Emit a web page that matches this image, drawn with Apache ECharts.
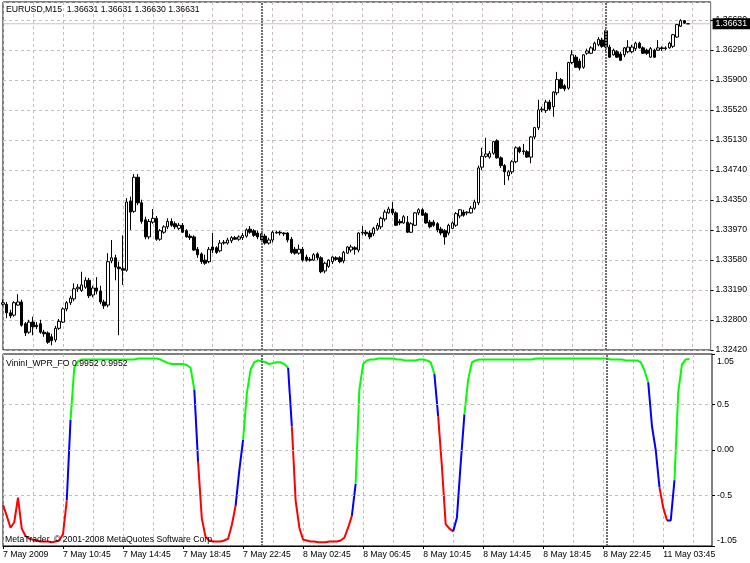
<!DOCTYPE html>
<html><head><meta charset="utf-8">
<script src="https://cdn.jsdelivr.net/npm/echarts@6/dist/echarts.min.js"></script>
<style>html,body{margin:0;padding:0;background:#fff}#c{width:750px;height:563px}</style>
</head><body><div id="c"></div>
<script>
// ---------- data ----------
const barOpen = [
1.3301,1.3301,1.3290,1.3287,1.3300,1.3304,1.3276,1.3265,1.3278,1.3274,
1.3276,1.3265,1.3264,1.3259,1.3255,1.3270,1.3278,1.3295,1.3303,1.3308,
1.3321,1.3319,1.3323,1.3332,1.3313,1.3322,1.3318,1.3304,1.3300,1.3357,
1.3361,1.3349,1.3347,1.3345,1.3434,1.3421,1.3465,1.3432,1.3410,1.3388,
1.3407,1.3412,1.3385,1.3394,1.3401,1.3408,1.3405,1.3399,1.3403,1.3396,
1.3389,1.3388,1.3372,1.3366,1.3358,1.3356,1.3375,1.3374,1.3370,1.3380,
1.3380,1.3383,1.3387,1.3385,1.3387,1.3389,1.3398,1.3396,1.3393,1.3392,
1.3389,1.3380,1.3384,1.3393,1.3394,1.3393,1.3393,1.3385,1.3372,1.3367,
1.3372,1.3362,1.3359,1.3358,1.3366,1.3361,1.3344,1.3350,1.3356,1.3361,
1.3361,1.3357,1.3367,1.3371,1.3374,1.3371,1.3393,1.3394,1.3393,1.3392,
1.3398,1.3401,1.3411,1.3419,1.3424,1.3419,1.3408,1.3406,1.3407,1.3394,
1.3403,1.3419,1.3423,1.3418,1.3407,1.3407,1.3405,1.3398,1.3396,1.3393,
1.3399,1.3403,1.3415,1.3420,1.3419,1.3419,1.3425,1.3432,1.3478,1.3492,
1.3491,1.3496,1.3512,1.3490,1.3480,1.3467,1.3472,1.3485,1.3503,1.3498,
1.3498,1.3491,1.3517,1.3529,1.3552,1.3551,1.3562,1.3556,1.3574,1.3591,
1.3583,1.3580,1.3613,1.3620,1.3615,1.3607,1.3625,1.3625,1.3629,1.3636,
1.3642,1.3654,1.3633,1.3623,1.3627,1.3624,1.3623,1.3627,1.3627,1.3631,
1.3638,1.3632,1.3629,1.3620,1.3629,1.3629,1.3632,1.3631,1.3632,1.3634,
1.3646,1.3660,1.3667,1.36631];
const barClose = [
1.3303,1.3290,1.3286,1.3303,1.3304,1.3274,1.3264,1.3278,1.3272,1.3272,
1.3265,1.3263,1.3252,1.3254,1.3270,1.3279,1.3295,1.3303,1.3309,1.3321,
1.3323,1.3326,1.3332,1.3312,1.3322,1.3318,1.3304,1.3299,1.3356,1.3361,
1.3349,1.3347,1.3345,1.3433,1.3420,1.3465,1.3432,1.3408,1.3388,1.3408,
1.3412,1.3385,1.3396,1.3401,1.3408,1.3403,1.3401,1.3403,1.3394,1.3388,
1.3387,1.3371,1.3365,1.3356,1.3354,1.3372,1.3371,1.3368,1.3380,1.3381,
1.3384,1.3387,1.3385,1.3388,1.3390,1.3397,1.3394,1.3390,1.3388,1.3384,
1.3380,1.3384,1.3394,1.3394,1.3393,1.3392,1.3384,1.3368,1.3367,1.3372,
1.3358,1.3358,1.3358,1.3365,1.3361,1.3343,1.3354,1.3358,1.3362,1.3359,
1.3356,1.3368,1.3375,1.3375,1.3372,1.3393,1.3394,1.3392,1.3388,1.3399,
1.3403,1.3412,1.3420,1.3424,1.3419,1.3403,1.3406,1.3414,1.3394,1.3405,
1.3419,1.3423,1.3416,1.3406,1.3401,1.3403,1.3397,1.3393,1.3388,1.3403,
1.3406,1.3418,1.3423,1.3416,1.3420,1.3425,1.3433,1.3477,1.3492,1.3495,
1.3496,1.3511,1.3490,1.3480,1.3472,1.3472,1.3485,1.3503,1.3498,1.3499,
1.3491,1.3517,1.3529,1.3552,1.3553,1.3562,1.3553,1.3575,1.3591,1.3580,
1.3579,1.3613,1.3623,1.3607,1.3606,1.3623,1.3628,1.3632,1.3638,1.3643,
1.3634,1.3633,1.3620,1.3629,1.3620,1.3616,1.3632,1.3633,1.3633,1.3638,
1.3632,1.3625,1.3625,1.3631,1.3620,1.3632,1.3631,1.3632,1.3638,1.3649,
1.3662,1.3667,1.3664,1.36631];
const barLow = [
1.3299,1.3283,1.3283,1.3285,1.3299,1.3272,1.3260,1.3263,1.3261,1.3269,
1.3263,1.3259,1.3250,1.3248,1.3252,1.3268,1.3277,1.3292,1.3300,1.3305,
1.3317,1.3317,1.3321,1.3309,1.3310,1.3314,1.3301,1.3295,1.3297,1.3354,
1.3332,1.3261,1.3326,1.3343,1.3397,1.3419,1.3429,1.3405,1.3385,1.3385,
1.3405,1.3383,1.3383,1.3392,1.3398,1.3401,1.3398,1.3397,1.3393,1.3387,
1.3384,1.3370,1.3361,1.3353,1.3352,1.3354,1.3367,1.3366,1.3368,1.3378,
1.3378,1.3380,1.3384,1.3383,1.3384,1.3387,1.3392,1.3388,1.3385,1.3381,
1.3378,1.3378,1.3381,1.3392,1.3390,1.3389,1.3381,1.3366,1.3365,1.3365,
1.3356,1.3356,1.3356,1.3357,1.3358,1.3341,1.3341,1.3348,1.3353,1.3357,
1.3354,1.3354,1.3366,1.3368,1.3365,1.3368,1.3390,1.3389,1.3385,1.3389,
1.3396,1.3398,1.3408,1.3418,1.3416,1.3402,1.3403,1.3405,1.3393,1.3393,
1.3402,1.3416,1.3415,1.3405,1.3399,1.3401,1.3394,1.3390,1.3378,1.3390,
1.3398,1.3401,1.3412,1.3414,1.3416,1.3418,1.3423,1.3429,1.3474,1.3490,
1.3489,1.3494,1.3489,1.3477,1.3455,1.3461,1.3469,1.3483,1.3496,1.3494,
1.3490,1.3483,1.3514,1.3526,1.3549,1.3548,1.3551,1.3543,1.3571,1.3579,
1.3576,1.3578,1.3611,1.3606,1.3603,1.3605,1.3623,1.3624,1.3628,1.3634,
1.3632,1.3627,1.3619,1.3622,1.3619,1.3615,1.3620,1.3625,1.3625,1.3628,
1.3631,1.3624,1.3623,1.3619,1.3619,1.3628,1.3628,1.3629,1.3631,1.3632,
1.3645,1.3659,1.3663,1.36630];
const barHigh = [
1.3307,1.3304,1.3294,1.3305,1.3314,1.3307,1.3278,1.3281,1.3285,1.3278,
1.3281,1.3268,1.3266,1.3263,1.3273,1.3282,1.3297,1.3305,1.3312,1.3328,
1.3327,1.3343,1.3336,1.3335,1.3325,1.3336,1.3325,1.3307,1.3367,1.3384,
1.3365,1.3356,1.3390,1.3438,1.3440,1.3469,1.3469,1.3436,1.3414,1.3411,
1.3424,1.3415,1.3398,1.3403,1.3412,1.3412,1.3408,1.3406,1.3406,1.3398,
1.3392,1.3390,1.3375,1.3368,1.3365,1.3375,1.3393,1.3376,1.3384,1.3384,
1.3387,1.3389,1.3389,1.3390,1.3393,1.3399,1.3402,1.3398,1.3396,1.3394,
1.3392,1.3387,1.3396,1.3396,1.3396,1.3394,1.3394,1.3388,1.3375,1.3378,
1.3375,1.3365,1.3362,1.3367,1.3368,1.3363,1.3356,1.3359,1.3363,1.3363,
1.3363,1.3370,1.3376,1.3378,1.3376,1.3394,1.3402,1.3397,1.3396,1.3401,
1.3406,1.3414,1.3423,1.3427,1.3433,1.3421,1.3411,1.3416,1.3415,1.3407,
1.3420,1.3425,1.3425,1.3420,1.3410,1.3410,1.3407,1.3401,1.3398,1.3405,
1.3408,1.3420,1.3424,1.3423,1.3421,1.3428,1.3436,1.3480,1.3503,1.3516,
1.3499,1.3512,1.3514,1.3492,1.3482,1.3474,1.3487,1.3505,1.3505,1.3508,
1.3500,1.3518,1.3530,1.3565,1.3556,1.3565,1.3565,1.3576,1.3601,1.3593,
1.3585,1.3614,1.3629,1.3623,1.3618,1.3624,1.3631,1.3634,1.3640,1.3646,
1.3645,1.3656,1.3636,1.3631,1.3629,1.3627,1.3633,1.3642,1.3636,1.3640,
1.3640,1.3634,1.3631,1.3633,1.3631,1.3642,1.3634,1.3634,1.3640,1.3650,
1.3663,1.3669,1.3668,1.36631];

const wprValues = [
-0.60,-0.72,-0.85,-0.79,-0.52,-0.86,-0.94,-0.97,-0.98,-0.99,
-1.00,-1.00,-1.00,-1.01,-1.00,-0.99,-0.92,-0.55,0.33,0.90,
0.97,0.99,0.99,0.99,0.99,0.99,0.99,0.99,0.99,0.99,
0.99,0.99,0.99,0.99,0.99,0.99,1.00,1.00,1.00,1.00,
1.00,1.00,0.99,0.97,0.95,0.94,0.94,0.94,0.94,0.93,
0.90,0.66,-0.13,-0.75,-0.95,-0.99,-1.00,-1.00,-1.00,-0.99,
-0.97,-0.82,-0.61,-0.22,0.11,0.62,0.88,0.96,0.98,0.97,
0.96,0.94,0.95,0.96,0.96,0.94,0.90,0.26,-0.55,-0.85,
-0.98,-0.99,-1.00,-1.00,-1.01,-1.01,-1.01,-1.00,-1.00,-1.00,
-0.99,-0.96,-0.85,-0.72,-0.37,0.66,0.94,0.98,0.99,0.99,
1.00,1.00,1.00,1.00,1.00,0.99,0.99,0.98,0.98,0.98,
0.98,0.99,0.99,0.98,0.96,0.83,0.37,-0.18,-0.81,-0.86,
-0.89,-0.74,-0.15,0.39,0.77,0.96,0.98,0.99,0.99,0.99,
0.99,0.99,0.99,0.99,0.99,0.99,0.99,0.99,0.99,0.99,
0.99,0.99,1.00,1.00,1.00,1.00,1.00,1.00,1.00,1.00,
1.00,1.00,1.00,1.00,1.00,1.00,1.00,1.00,1.00,1.00,
1.00,1.00,0.99,0.99,0.99,0.99,0.98,0.98,0.98,0.98,
0.96,0.87,0.74,0.26,0.00,-0.41,-0.63,-0.77,-0.77,-0.33,
0.63,0.94,0.99,0.9952];
// colour runs of the indicator line: [first bar, last bar, colour]
const wprRuns = [
[0,17,'#ff0000'],[17,18,'#0000ff'],[18,51,'#00ff00'],[51,52,'#0000ff'],
[52,62,'#ff0000'],[62,64,'#0000ff'],[64,76,'#00ff00'],[76,77,'#0000ff'],
[77,93,'#ff0000'],[93,94,'#0000ff'],[94,115,'#00ff00'],[115,116,'#0000ff'],
[116,120,'#ff0000'],[120,123,'#0000ff'],[123,172,'#00ff00'],[172,175,'#0000ff'],
[175,177,'#ff0000'],[177,179,'#0000ff'],[179,183,'#00ff00']];

const priceTickLabels = ['1.32420','1.32800','1.33190','1.33580','1.33970','1.34350','1.34740','1.35130','1.35520','1.35900','1.36290','1.36680'];
const wprTickValues = [1.05, 0.5, 0, -0.5, -1.05];
const wprTickLabels = ['1.05','0.5','0.00','-0.5','-1.05'];
const wprGridValues = [0.5, 0, -0.5];
const xTickLabels = ['7 May 2009','7 May 10:45','7 May 14:45','7 May 18:45','7 May 22:45','8 May 02:45','8 May 06:45','8 May 10:45','8 May 14:45','8 May 18:45','8 May 22:45','11 May 03:45'];
const daySeparators = [69, 161];
const bidPrice = 1.36631;
const titleText = 'EURUSD,M15  1.36631 1.36631 1.36630 1.36631';
const indicatorText = 'VininI_WPR_FO 0.9952 0.9952';
const copyrightText = 'MetaTrader, \u00a9 2001-2008 MetaQuotes Software Corp.';

// ---------- chart ----------
const SLOTS = 190;           // bars + right shift
const cats = Array.from({length: SLOTS}, (_, i) => String(i));
const FONT = 'Liberation Sans';
const FS = 8.7;
const GRIDC = '#c6bdbd';

const candles = barOpen.map((o, i) => [o, barClose[i], barLow[i], barHigh[i]]);

const chart = echarts.init(document.getElementById('c'), null, {renderer: 'canvas'});

const xBase = {
  type: 'category', data: cats, boundaryGap: false,
  splitLine: {show: true, interval: 7, lineStyle: {color: GRIDC, type: [3, 3], width: 1}},
};

const sepLine = {color: '#6e6e6e', type: [2, 1], width: 2};

const series = [
  {
    // helper series on the price panel: bid line (drawn from the bid value) and day separators
    type: 'line', xAxisIndex: 0, yAxisIndex: 0, showSymbol: false, z: 1,
    data: cats.map(() => bidPrice),
    lineStyle: {color: '#c4c4c4', width: 1},
    endLabel: {show: true, distance: 2, formatter: () => bidPrice.toFixed(5),
               backgroundColor: '#000', color: '#fff', padding: [1, 3, 0, 3],
               fontFamily: FONT, fontSize: FS, lineHeight: 10},
    markLine: {
      silent: true, symbol: ['none', 'none'], animation: false,
      data: daySeparators.map(d => ({xAxis: d, lineStyle: sepLine, label: {show: false}}))
    }
  },
  {
    type: 'candlestick', xAxisIndex: 0, yAxisIndex: 0, data: candles, barWidth: 3, z: 3,
    itemStyle: {color: '#ffffff', color0: '#000000', borderColor: '#000000', borderColor0: '#000000', borderWidth: 1}
  },
  {
    type: 'line', xAxisIndex: 1, yAxisIndex: 2, data: wprValues.map(() => null), showSymbol: false, z: 1,
    markLine: {
      silent: true, symbol: ['none', 'none'], animation: false,
      data: [
        ...wprGridValues.map(v => ({yAxis: v, lineStyle: {color: GRIDC, type: [3, 3], width: 1}, label: {show: false}})),
        ...daySeparators.map(d => ({xAxis: d, lineStyle: sepLine, label: {show: false}}))
      ]
    }
  },
  ...wprRuns.map(([s, e, col]) => ({
    type: 'line', xAxisIndex: 1, yAxisIndex: 2, showSymbol: false, connectNulls: false, z: 3,
    lineStyle: {color: col, width: 2}, itemStyle: {color: col},
    data: wprValues.map((v, i) => (i >= s && i <= e) ? v : null)
  }))
];

chart.setOption({
  animation: false,
  backgroundColor: '#ffffff',
  grid: [
    {left: 3, right: 38, top: 2, height: 348, show: true, borderColor: '#000', borderWidth: 1, backgroundColor: 'transparent'},
    {left: 3, right: 38, top: 354, height: 192, show: true, borderColor: '#000', borderWidth: 1, backgroundColor: 'transparent'}
  ],
  xAxis: [
    Object.assign({}, xBase, {gridIndex: 0, axisLine: {show: false, onZero: false}, axisTick: {show: false}, axisLabel: {show: false}}),
    Object.assign({}, xBase, {gridIndex: 1,
      axisLine: {show: true, onZero: false, lineStyle: {color: '#000', width: 1}},
      axisTick: {show: true, interval: 15, length: 3, lineStyle: {color: '#000'}},
      axisLabel: {show: true, interval: 15, align: 'left', margin: 4, color: '#000', fontFamily: FONT, fontSize: FS,
        formatter: (v, idx) => xTickLabels[Math.round(idx / 16)] || ''}})
  ],
  yAxis: [
    {gridIndex: 0, type: 'value', min: 1.3242, max: 1.36912, position: 'right',
      axisLine: {show: false}, axisTick: {show: false}, axisLabel: {show: false}, splitLine: {show: false}},
    {gridIndex: 0, type: 'value', min: 0, max: 11.6, interval: 1, position: 'right',
      axisLine: {show: true, lineStyle: {color: '#808080', width: 1}},
      axisTick: {show: true, length: 3, lineStyle: {color: '#000'}},
      axisLabel: {show: true, margin: 5, color: '#000', fontFamily: FONT, fontSize: FS, showMaxLabel: false,
        formatter: v => (Math.abs(v - Math.round(v)) < 1e-6 ? (priceTickLabels[Math.round(v)] || '') : '')},
      splitLine: {show: true, lineStyle: {color: GRIDC, type: [3, 3], width: 1}}},
    {gridIndex: 1, type: 'value', min: -1.05, max: 1.05, position: 'right',
      axisLine: {show: true, lineStyle: {color: '#808080', width: 1}},
      axisTick: {show: true, length: 3, customValues: wprTickValues, lineStyle: {color: '#000'}},
      axisLabel: {show: true, margin: 5, color: '#000', fontFamily: FONT, fontSize: FS, customValues: wprTickValues,
        formatter: v => {
          const k = wprTickValues.findIndex(t => Math.abs(t - v) < 1e-9);
          if (k < 0) return '';
          if (k === 0) return '{t|' + wprTickLabels[k] + '}';
          if (k === wprTickValues.length - 1) return '{b|' + wprTickLabels[k] + '}';
          return wprTickLabels[k];
        },
        rich: {
          t: {padding: [15, 0, 0, 0], fontFamily: FONT, fontSize: FS, color: '#000'},
          b: {padding: [0, 0, 11, 0], fontFamily: FONT, fontSize: FS, color: '#000'}
        }},
      splitLine: {show: false}}
  ],
  graphic: [
    {type: 'text', left: 6, top: 5, z: 100, style: {text: titleText, fill: '#000', font: FS + 'px "' + FONT + '"'}},
    {type: 'text', left: 6, top: 359, z: 100, style: {text: indicatorText, fill: '#000', font: FS + 'px "' + FONT + '"'}},
    {type: 'text', left: 5, top: 535, z: 100, style: {text: copyrightText, fill: '#000', font: FS + 'px "' + FONT + '"'}}
  ],
  series: series
});
</script>
</body></html>
